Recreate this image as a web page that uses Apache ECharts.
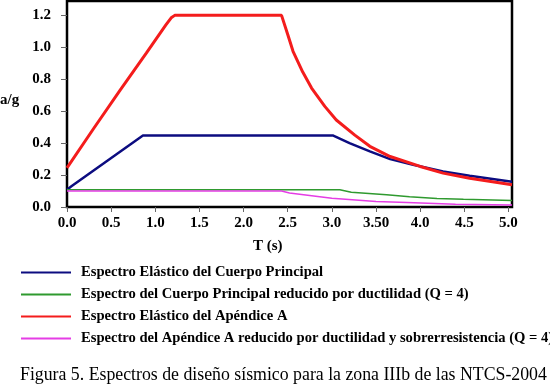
<!DOCTYPE html>
<html>
<head>
<meta charset="utf-8">
<script src="https://cdn.jsdelivr.net/npm/echarts@6/dist/echarts.min.js"></script>
<style>
  html, body { margin: 0; padding: 0; background: #fff; }
  #chart { width: 550px; height: 386px; }
</style>
</head>
<body>
<div id="chart"></div>
<script>
// ticks
const xTicks = [0, 0.5, 1.0, 1.5, 2.0, 2.5, 3.0, 3.5, 4.0, 4.5, 5.0];
const xTickLabels = ['0.0', '0.5', '1.0', '1.5', '2.0', '2.5', '3.0', '3.50', '4.0', '4.5', '5.0'];
const yTicks = [0, 0.2, 0.4, 0.6, 0.8, 1.0, 1.2];
const yTickLabels = ['0.0', '0.2', '0.4', '0.6', '0.8', '1.0', '1.2'];

const seriesNames = [
  'Espectro Elástico del Cuerpo Principal',
  'Espectro del Cuerpo Principal reducido por ductilidad (Q = 4)',
  'Espectro Elástico del Apéndice A',
  'Espectro del Apéndice A reducido por ductilidad y sobrerresistencia (Q = 4)',
];

// Espectro elastico, cuerpo principal
const blueT = [0, 0.05, 0.86, 3.01, 3.2, 3.43, 3.66, 3.92, 4.26, 4.56, 5.04];
const blueA = [0.108, 0.13, 0.448, 0.448, 0.40, 0.348, 0.30, 0.264, 0.222, 0.196, 0.158];
// reducido Q = 4
const greenT = [0, 3.09, 3.22, 3.62, 3.88, 4.19, 4.49, 5.04];
const greenA = [0.108, 0.108, 0.092, 0.077, 0.064, 0.053, 0.048, 0.040];
// Apendice A elastico
const redT = [0, 0.3, 0.6, 0.9, 1.12, 1.18, 1.22, 2.43, 2.5, 2.56, 2.67, 2.77, 2.92, 3.05, 3.26, 3.43, 3.66, 4.0, 4.26, 4.56, 5.04];
const redA = [0.245, 0.49, 0.73, 0.965, 1.14, 1.185, 1.2, 1.2, 1.08, 0.975, 0.845, 0.745, 0.63, 0.545, 0.45, 0.38, 0.316, 0.254, 0.212, 0.18, 0.14];
// Apendice A reducido
const magT = [0, 2.43, 2.52, 3.0, 3.5, 3.85, 4.4, 5.04];
const magA = [0.100, 0.100, 0.088, 0.055, 0.035, 0.028, 0.017, 0.013];

function pairs(t, a) {
  return t.map((v, i) => [v, a[i]]);
}

const font = 'Liberation Serif, Times New Roman, serif';
const charts = echarts.init(document.getElementById('chart'));

const option = {
  animation: false,
  backgroundColor: '#fff',
  title: {
    text: 'Figura 5. Espectros de diseño sísmico para la zona IIIb de las NTCS-2004',
    left: 20,
    top: 366,
    padding: 0,
    textStyle: {
      fontFamily: font,
      fontWeight: 'normal',
      fontSize: 17.8,
      color: '#000',
    },
  },
  grid: {
    left: 67,
    right: 38,
    top: 1,
    bottom: 179,
    show: true,
    borderColor: '#000',
    borderWidth: 2.5,
  },
  legend: {
    orient: 'vertical',
    left: 21,
    top: 265,
    padding: 0,
    icon: 'path://M0,0H50V2H0Z',
    itemWidth: 50,
    itemHeight: 2,
    itemGap: 7,
    selectedMode: false,
    data: seriesNames,
    textStyle: {
      fontFamily: font,
      fontWeight: 'bold',
      fontSize: 14.6,
      color: '#000',
      padding: [0, 0, 0, 5],
    },
  },
  xAxis: {
    type: 'value',
    min: 0,
    max: 5.04,
    axisLine: { show: false },
    splitLine: { show: false },
    axisTick: {
      show: true,
      length: 5,
      customValues: xTicks,
      lineStyle: { color: '#666' },
    },
    axisLabel: {
      customValues: xTicks,
      margin: 9,
      fontFamily: font,
      fontWeight: 'bold',
      fontSize: 15,
      color: '#000',
      formatter: (v) => {
        const i = xTicks.findIndex((t) => Math.abs(t - v) < 1e-6);
        return i >= 0 ? xTickLabels[i] : '';
      },
    },
  },
  yAxis: {
    type: 'value',
    min: 0,
    max: 1.29,
    axisLine: { show: false },
    splitLine: { show: false },
    axisTick: {
      show: true,
      length: 6,
      customValues: yTicks,
      lineStyle: { color: '#666' },
    },
    axisLabel: {
      customValues: yTicks,
      margin: 16,
      fontFamily: font,
      fontWeight: 'bold',
      fontSize: 15,
      color: '#000',
      formatter: (v) => {
        const i = yTicks.findIndex((t) => Math.abs(t - v) < 1e-6);
        return i >= 0 ? yTickLabels[i] : '';
      },
    },
  },
  graphic: [
    {
      type: 'text',
      left: 0,
      top: 93,
      style: { text: 'a/g', fontFamily: font, fontWeight: 'bold', fontSize: 15, fill: '#000' },
    },
    {
      type: 'text',
      left: 253,
      top: 239,
      style: { text: 'T (s)', fontFamily: font, fontWeight: 'bold', fontSize: 15, fill: '#000' },
    },
  ],
  series: [
    {
      name: seriesNames[0],
      type: 'line',
      symbol: 'none',
      data: pairs(blueT, blueA),
      lineStyle: { color: '#0c0c80', width: 2.5 },
      itemStyle: { color: '#0c0c80' },
    },
    {
      name: seriesNames[1],
      type: 'line',
      symbol: 'none',
      data: pairs(greenT, greenA),
      lineStyle: { color: '#2f9a2f', width: 1.5 },
      itemStyle: { color: '#2f9a2f' },
    },
    {
      name: seriesNames[2],
      type: 'line',
      symbol: 'none',
      data: pairs(redT, redA),
      lineStyle: { color: '#f41c1c', width: 3 },
      itemStyle: { color: '#f41c1c' },
    },
    {
      name: seriesNames[3],
      type: 'line',
      symbol: 'none',
      data: pairs(magT, magA),
      lineStyle: { color: '#e53de5', width: 1.5 },
      itemStyle: { color: '#e53de5' },
    },
  ],
};

charts.setOption(option);
</script>
</body>
</html>
